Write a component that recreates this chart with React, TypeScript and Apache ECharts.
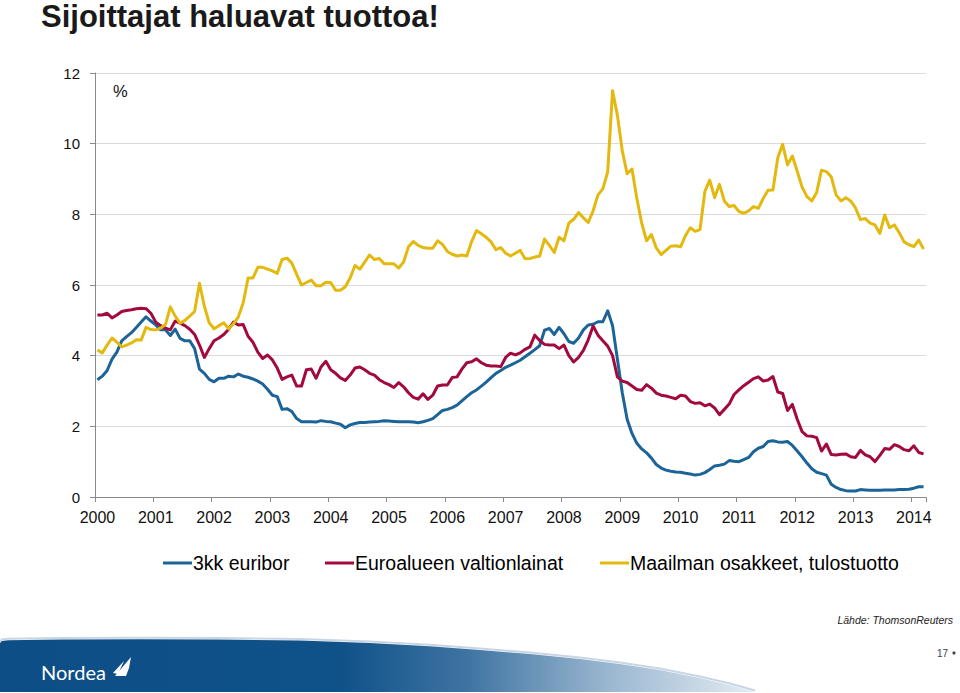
import React, { useEffect, useRef } from "react";
import * as echarts from "echarts";

const startYear = 2000;
const monthCount = 171;
const yearTicks = ["2000","2001","2002","2003","2004","2005","2006","2007","2008","2009","2010","2011","2012","2013","2014"];

const euribor = [
  3.32, 3.42, 3.58, 3.9, 4.1, 4.42, 4.54, 4.65, 4.8, 4.95, 5.1, 4.98,
  4.87, 4.73, 4.73, 4.57, 4.75, 4.49, 4.42, 4.42, 4.2, 3.62, 3.5, 3.33,
  3.26, 3.36, 3.36, 3.42, 3.4, 3.48, 3.42, 3.39, 3.34, 3.28, 3.2, 3.05,
  2.88, 2.84, 2.48, 2.5, 2.42, 2.22, 2.13, 2.13, 2.13, 2.12, 2.16, 2.14,
  2.13, 2.09, 2.06, 1.96, 2.04, 2.08, 2.11, 2.11, 2.12, 2.13, 2.14, 2.16,
  2.15, 2.14, 2.13, 2.13, 2.13, 2.12, 2.1, 2.13, 2.17, 2.22, 2.33, 2.45,
  2.48, 2.53, 2.6, 2.72, 2.84, 2.95, 3.03, 3.14, 3.25, 3.38, 3.5, 3.58,
  3.67, 3.73, 3.8, 3.87, 3.97, 4.07, 4.17, 4.28, 4.72, 4.77, 4.6, 4.8,
  4.62, 4.4, 4.35, 4.5, 4.73, 4.87, 4.89, 4.96, 4.96, 5.27, 4.85, 3.9,
  2.95, 2.2, 1.8, 1.52, 1.36, 1.25, 1.1, 0.92, 0.82, 0.76, 0.73, 0.71,
  0.7, 0.67, 0.65, 0.62, 0.64, 0.69, 0.78, 0.88, 0.9, 0.93, 1.03, 1.01,
  1.0, 1.06, 1.12, 1.28, 1.38, 1.43, 1.57, 1.59, 1.56, 1.55, 1.57, 1.46,
  1.3, 1.14, 0.96, 0.8, 0.7, 0.66, 0.62, 0.36, 0.27, 0.21, 0.18, 0.17,
  0.17, 0.21, 0.2, 0.19, 0.19, 0.19, 0.2, 0.2, 0.2, 0.21, 0.21, 0.22,
  0.25, 0.29, 0.29,
];

const govBonds = [
  5.15, 5.15, 5.2, 5.07, 5.15, 5.25, 5.28, 5.3, 5.33, 5.34, 5.33, 5.2,
  4.95, 4.85, 4.78, 4.73, 4.98, 4.92, 4.85, 4.75, 4.6, 4.3, 3.95, 4.2,
  4.42, 4.5, 4.6, 4.75, 4.95, 4.87, 4.88, 4.55, 4.38, 4.1, 3.92, 4.02,
  3.88, 3.65, 3.33, 3.4, 3.45, 3.14, 3.14, 3.6, 3.62, 3.36, 3.68, 3.84,
  3.6, 3.5, 3.37, 3.3, 3.45, 3.65, 3.68, 3.6, 3.5, 3.45, 3.32, 3.24,
  3.18, 3.1, 3.24, 3.12, 2.95, 2.82, 2.77, 2.92, 2.76, 2.88, 3.14, 3.17,
  3.17, 3.38, 3.4, 3.62, 3.8, 3.83, 3.91, 3.8, 3.73, 3.71, 3.71, 3.69,
  3.95, 4.07, 4.02, 4.08, 4.18, 4.25, 4.58, 4.43, 4.32, 4.3, 4.3, 4.2,
  4.3, 4.0, 3.82, 3.95, 4.15, 4.45, 4.84, 4.58, 4.42, 4.27, 4.0, 3.4,
  3.28, 3.24, 3.14, 3.04, 3.02, 3.18, 3.08, 2.94, 2.88, 2.86, 2.82, 2.78,
  2.88, 2.86, 2.7, 2.65, 2.67, 2.58, 2.63, 2.52, 2.33, 2.48, 2.63, 2.9,
  3.03, 3.15, 3.25, 3.35, 3.4, 3.28, 3.31, 3.41, 2.97, 2.93, 2.45, 2.62,
  2.2, 1.85, 1.73, 1.72, 1.68, 1.3, 1.5, 1.2, 1.19, 1.21, 1.22, 1.14,
  1.12, 1.32, 1.19, 1.14, 1.0, 1.18, 1.37, 1.35, 1.48, 1.43, 1.34, 1.31,
  1.45, 1.26, 1.22,
];

const equityYield = [
  4.16, 4.08, 4.3, 4.5, 4.38, 4.25, 4.3, 4.36, 4.45, 4.44, 4.8, 4.74,
  4.73, 4.78, 4.88, 5.38, 5.12, 4.92, 5.0, 5.12, 5.25, 6.05, 5.4, 4.93,
  4.76, 4.85, 4.93, 4.76, 4.9, 5.1, 5.5, 6.2, 6.2, 6.5, 6.5, 6.45,
  6.4, 6.33, 6.72, 6.76, 6.62, 6.3, 6.0, 6.07, 6.14, 5.98, 5.98, 6.08,
  6.07, 5.85, 5.85, 5.95, 6.2, 6.55, 6.45, 6.65, 6.85, 6.72, 6.75, 6.6,
  6.6, 6.6, 6.48, 6.65, 7.08, 7.23, 7.12, 7.06, 7.04, 7.04, 7.25, 7.15,
  6.95, 6.87, 6.82, 6.85, 6.82, 7.23, 7.54, 7.45, 7.35, 7.22, 7.0, 7.06,
  6.9, 6.82, 6.9, 6.98, 6.74, 6.75, 6.79, 6.82, 7.3, 7.12, 6.92, 7.35,
  7.25, 7.75, 7.86, 8.05, 7.9, 7.77, 8.1, 8.55, 8.72, 9.2, 11.5, 10.8,
  9.8, 9.15, 9.28, 8.45, 7.75, 7.25, 7.43, 7.05, 6.86, 6.98, 7.1, 7.11,
  7.08, 7.4, 7.62, 7.52, 7.57, 8.65, 8.97, 8.47, 8.85, 8.38, 8.22, 8.25,
  8.08, 8.03, 8.1, 8.22, 8.17, 8.45, 8.68, 8.69, 9.6, 9.98, 9.4, 9.65,
  9.22, 8.77, 8.5, 8.38, 8.62, 9.25, 9.21, 9.06, 8.55, 8.38, 8.47, 8.38,
  8.18, 7.85, 7.88, 7.75, 7.7, 7.46, 7.98, 7.62, 7.7, 7.48, 7.22, 7.14,
  7.09, 7.27, 7.02,
];

const seriesNames = ["3kk euribor", "Euroalueen valtionlainat", "Maailman osakkeet, tulostuotto"];
const seriesColors = ["#1c6498", "#a20a3f", "#e3b90f"];

const yTicks = { min: 0, max: 12, interval: 2 };

const categories: string[] = [];
for (let i = 0; i < monthCount; i++) {
  const y = startYear + Math.floor(i / 12);
  const m = (i % 12) + 1;
  categories.push(`${y}-${m < 10 ? "0" + m : m}`);
}

const FONT = "'Liberation Sans', Arial, Helvetica, sans-serif";

export default function App() {
  const ref = useRef<HTMLDivElement>(null);

  useEffect(() => {
    document.body.style.margin = "0";
    if (!ref.current) return;
    const chart = echarts.init(ref.current, null, { renderer: "svg" });

    const bannerTop = [
      [0, 692], [0, 643], [2, 641], [8, 640.2], [60, 639.6], [140, 639.2], [220, 639.4],
      [300, 640.6], [370, 643], [430, 646.2], [480, 650], [530, 654], [580, 659],
      [620, 664], [660, 670], [700, 678], [730, 685], [755, 692],
    ];

    const option: any = {
      animation: false,
      backgroundColor: "#ffffff",
      textStyle: { fontFamily: FONT },
      grid: { left: 95, right: 34, top: 73, bottom: 196, containLabel: false },
      xAxis: {
        type: "category",
        data: categories,
        boundaryGap: true,
        axisLine: { show: true, lineStyle: { color: "#8a8a8a", width: 1 } },
        axisTick: { show: true, interval: 11, length: 5, lineStyle: { color: "#8a8a8a" } },
        axisLabel: {
          interval: (index: number) => index % 12 === 0,
          formatter: (v: string) => {
            const y = v.slice(0, 4);
            return v.slice(5) === "01" && yearTicks.indexOf(y) >= 0 ? y : "";
          },
          fontSize: 16,
          color: "#111",
          margin: 12,
          fontFamily: FONT,
        },
        splitLine: { show: false },
      },
      yAxis: {
        type: "value",
        min: yTicks.min,
        max: yTicks.max,
        interval: yTicks.interval,
        axisLine: { show: true, lineStyle: { color: "#8a8a8a", width: 1 } },
        axisTick: { show: true, length: 5, lineStyle: { color: "#8a8a8a" } },
        axisLabel: { fontSize: 15, color: "#111", margin: 15, fontFamily: FONT },
        splitLine: { show: true, lineStyle: { color: "#dadada", width: 1 } },
      },
      legend: [
        { left: 163, top: 553 },
        { left: 325, top: 553 },
        { left: 600, top: 553 },
      ].map((p, i) => ({
        ...p,
        padding: 0,
        data: [seriesNames[i]],
        icon: "rect",
        itemWidth: 29,
        itemHeight: 3,
        selectedMode: false,
        textStyle: { fontSize: 19.5, color: "#000", fontFamily: FONT, padding: [0, 0, 0, -4] },
      })),
      series: seriesNames.map((name, i) => ({
        name,
        type: "line",
        data: [euribor, govBonds, equityYield][i],
        symbol: "none",
        smooth: false,
        color: seriesColors[i],
        lineStyle: { color: seriesColors[i], width: 3, join: "round" },
        z: 2 + i,
      })),
      graphic: [
        {
          type: "text",
          x: 41,
          y: 16,
          style: {
            text: "Sijoittajat haluavat tuottoa!",
            fontSize: 31,
            fontWeight: "bold",
            fontFamily: FONT,
            fill: "#1a1a1a",
            align: "left",
            verticalAlign: "middle",
          },
        },
        {
          type: "text",
          x: 113,
          y: 91,
          style: {
            text: "%",
            fontSize: 16.5,
            fontFamily: FONT,
            fill: "#111",
            align: "left",
            verticalAlign: "middle",
          },
        },
        {
          type: "text",
          x: 953,
          y: 620,
          style: {
            text: "Lähde: ThomsonReuters",
            fontSize: 10.5,
            fontStyle: "italic",
            fontFamily: FONT,
            fill: "#222",
            align: "right",
            verticalAlign: "middle",
          },
        },
        {
          type: "polyline",
          shape: { points: bannerTop.slice(1).map((p) => [p[0], p[1] - 1.5]) },
          style: { stroke: "#c8d6e4", lineWidth: 2, fill: "none" },
          silent: true,
        },
        {
          type: "polygon",
          shape: { points: bannerTop },
          style: {
            fill: new echarts.graphic.LinearGradient(0, 0, 1, 0, [
              { offset: 0, color: "#0d4e86" },
              { offset: 0.45, color: "#0f5189" },
              { offset: 0.62, color: "#3f74a2" },
              { offset: 0.8, color: "#98b5cf" },
              { offset: 1, color: "#e4ecf3" },
            ]),
          },
          silent: true,
        },
        {
          type: "text",
          x: 41,
          y: 672,
          style: {
            text: "Nordea",
            fontSize: 20,
            fontFamily: "Lato, 'Liberation Sans', sans-serif",
            fill: "#ffffff",
            align: "left",
            verticalAlign: "middle",
          },
        },
        {
          type: "polygon",
          shape: { points: [[115, 676], [131, 657], [129, 668], [126, 676]] },
          style: { fill: "#ffffff" },
        },
        {
          type: "polygon",
          shape: { points: [[113, 673], [124, 661], [118, 674]] },
          style: { fill: "#ffffff" },
        },
        {
          type: "text",
          x: 948,
          y: 653,
          style: {
            text: "17",
            fontSize: 10,
            fontFamily: FONT,
            fill: "#444",
            align: "right",
            verticalAlign: "middle",
          },
        },
        {
          type: "circle",
          shape: { cx: 954, cy: 653, r: 1.6 },
          style: { fill: "#444" },
        },
      ],
    };

    chart.setOption(option);
    return () => {
      chart.dispose();
    };
  }, []);

  return (
    <div
      ref={ref}
      style={{ position: "absolute", left: 0, top: 0, width: 960, height: 693 }}
    />
  );
}
